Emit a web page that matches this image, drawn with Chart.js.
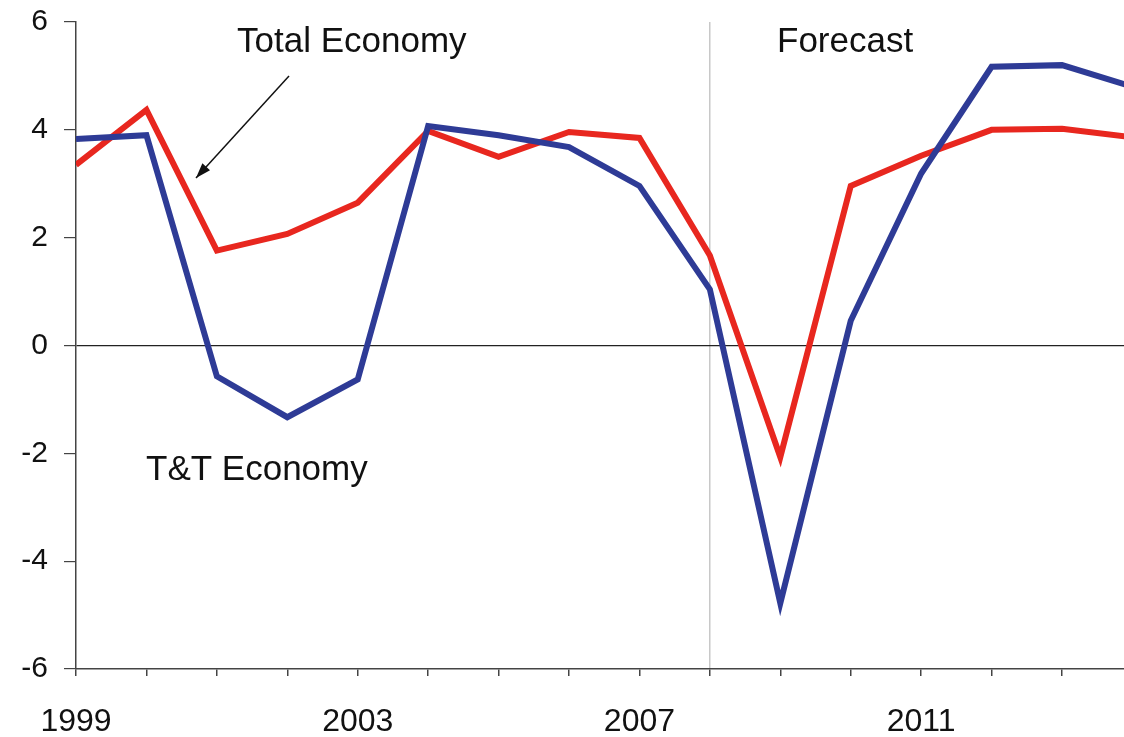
<!DOCTYPE html>
<html>
<head>
<meta charset="utf-8">
<script src="https://cdn.jsdelivr.net/npm/chart.js@4"></script>
<style>
  html, body { margin: 0; padding: 0; background: #fff; }
  #wrap { width: 1124px; height: 737px; position: relative; }
</style>
</head>
<body>
<div id="wrap"><canvas id="gdp"></canvas></div>
<script>
// annual growth, %, 1999-2014 (2009 onward is forecast)
const years      = [1999, 2000, 2001, 2002, 2003, 2004, 2005, 2006, 2007, 2008, 2009, 2010, 2011, 2012, 2013, 2014];
const ttEconomy  = [3.83, 3.90, -0.57, -1.33, -0.63, 4.07, 3.90, 3.68, 2.96, 1.04, -4.78, 0.46, 3.19, 5.17, 5.20, 4.80];
const totEconomy = [3.35, 4.37, 1.76, 2.07, 2.65, 3.98, 3.50, 3.96, 3.85, 1.67, -2.07, 2.96, 3.52, 4.00, 4.02, 3.86];
const yTicks     = [-6, -4, -2, 0, 2, 4, 6];
const xLabels    = [1999, 2003, 2007, 2011];
const forecastYear = 2008;

const FONT = '"Liberation Sans", Arial, sans-serif';

const toPts = vals => vals.map((v, i) => ({ x: years[i], y: v }));

// text labels + the arrow pointing at the total economy line
const notes = {
  id: 'notes',
  afterDraw(chart) {
    const ctx = chart.ctx;
    ctx.save();
    ctx.fillStyle = '#111';
    ctx.font = '35px ' + FONT;
    ctx.textBaseline = 'middle';
    ctx.textAlign = 'left';
    ctx.fillText('Total Economy', 237, 42);
    ctx.fillText('Forecast', 777, 42);
    ctx.fillText('T&T Economy', 146, 470);

    // arrow
    const x1 = 289, y1 = 76, x2 = 196, y2 = 178;
    ctx.strokeStyle = '#111';
    ctx.lineWidth = 1.5;
    ctx.beginPath();
    ctx.moveTo(x1, y1);
    ctx.lineTo(x2, y2);
    ctx.stroke();
    const a = Math.atan2(y2 - y1, x2 - x1);
    ctx.beginPath();
    ctx.moveTo(x2, y2);
    ctx.lineTo(x2 - 16 * Math.cos(a - 0.33), y2 - 16 * Math.sin(a - 0.33));
    ctx.lineTo(x2 - 16 * Math.cos(a + 0.33), y2 - 16 * Math.sin(a + 0.33));
    ctx.closePath();
    ctx.fillStyle = '#111';
    ctx.fill();
    ctx.restore();
  }
};

new Chart(document.getElementById('gdp'), {
  type: 'line',
  data: {
    datasets: [
      { label: 'T&T Economy',   data: toPts(ttEconomy),  borderColor: '#2e3b96', borderWidth: 6, pointRadius: 0, tension: 0, clip: 0 },
      { label: 'Total Economy', data: toPts(totEconomy), borderColor: '#e8271f', borderWidth: 6, pointRadius: 0, tension: 0, clip: 0 },
    ],
  },
  options: {
    responsive: true,
    maintainAspectRatio: false,
    animation: false,
    layout: { padding: { top: 22, right: 0, left: 0, bottom: 0 } },
    plugins: { legend: { display: false }, tooltip: { enabled: false } },
    scales: {
      x: {
        type: 'linear',
        min: 1999,
        max: 2013.88,
        afterBuildTicks: s => { s.ticks = years.filter(y => y <= 2013.88).map(v => ({ value: v })); },
        afterFit: s => { s.height = 68; s.paddingLeft = 0; s.paddingRight = 0; },
        border: { color: '#444', width: 1.5 },
        grid: {
          drawOnChartArea: true,
          color: c => c.tick && c.tick.value === forecastYear ? '#c8c8c8' : 'rgba(0,0,0,0)',
          tickColor: '#444',
          tickLength: 7,
          lineWidth: 1.5,
        },
        ticks: {
          autoSkip: false,
          maxRotation: 0,
          padding: 27,
          color: '#111',
          font: { family: FONT, size: 32 },
          callback: v => xLabels.includes(v) ? String(v) : '',
        },
      },
      y: {
        min: -6,
        max: 6,
        afterBuildTicks: s => { s.ticks = yTicks.map(v => ({ value: v })); },
        afterFit: s => { s.width = 76; s.paddingTop = 0; s.paddingBottom = 0; },
        border: { color: '#444', width: 1.5 },
        grid: {
          drawOnChartArea: true,
          color: c => c.tick && c.tick.value === 0 ? '#222' : 'rgba(0,0,0,0)',
          tickColor: '#444',
          tickLength: 12,
          lineWidth: 1.2,
        },
        ticks: {
          padding: 16,
          color: '#111',
          font: { family: FONT, size: 30 },
        },
      },
    },
  },
  plugins: [notes],
});
</script>
</body>
</html>
